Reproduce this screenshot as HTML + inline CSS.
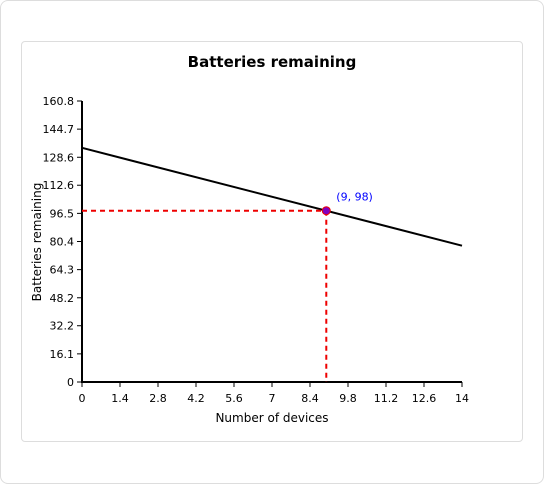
<!DOCTYPE html>
<html><head><meta charset="utf-8"><style>
html,body{margin:0;padding:0;background:#fff;}
body{width:544px;height:484px;position:relative;font-family:"DejaVu Sans","Liberation Sans",sans-serif;}
.outer{position:absolute;left:0;top:0;width:542px;height:482px;border:1px solid #ddd;border-radius:8px;}
.inner{position:absolute;left:21px;top:41px;width:500px;height:399px;border:1px solid #ddd;border-radius:4px;}
svg{position:absolute;left:0;top:0;}
</style></head><body>
<div class="outer"></div>
<div class="inner"></div>
<svg id="chart" width="544" height="484"></svg>
<script>
const xTicks=[0,1.4,2.8,4.2,5.6,7,8.4,9.8,11.2,12.6,14];
const yTicks=[0,16.1,32.2,48.2,64.3,80.4,96.5,112.6,128.6,144.7,160.8];
const lineX=[0,14];
const lineY=[134,78];
const pointX=[9];
const pointY=[98];
const pointLabels=["(9, 98)"];
const NS="http://www.w3.org/2000/svg";
const svg=document.getElementById('chart');
const X0=82,X1=462,Y0=382,Y1=101,XMAX=14,YMAX=160.8;
const sx=v=>X0+(v/XMAX)*(X1-X0);
const sy=v=>Y0-(v/YMAX)*(Y0-Y1);
function mk(t,a,txt){const e=document.createElementNS(NS,t);for(const k in a)e.setAttribute(k,a[k]);if(txt!==undefined)e.textContent=txt;svg.appendChild(e);return e;}
let e;
e=mk('text',{x:272,y:67,'text-anchor':'middle','font-size':15,'font-weight':'bold',fill:'#000'},'Batteries remaining');


e=mk('line',{x1:X0,y1:Y0,x2:X1,y2:Y0,stroke:'#000','stroke-width':2});


e=mk('line',{x1:X0,y1:Y0+1,x2:X0,y2:Y1,stroke:'#000','stroke-width':2});


xTicks.forEach(v=>{
 e=mk('line',{x1:sx(v),y1:Y0,x2:sx(v),y2:Y0+5,stroke:'#000'});
 
 
 e=mk('text',{x:sx(v),y:Y0+20,'text-anchor':'middle','font-size':11,fill:'#000'},String(v));
 
 
});
yTicks.forEach(v=>{
 e=mk('line',{x1:X0-5,y1:sy(v),x2:X0,y2:sy(v),stroke:'#000'});
 
 
 e=mk('text',{x:X0-8,y:sy(v)+4,'text-anchor':'end','font-size':11,fill:'#000'},String(v));
 
 
});
e=mk('text',{x:272,y:422,'text-anchor':'middle','font-size':12,fill:'#000'},'Number of devices');


e=mk('text',{x:0,y:0,'text-anchor':'middle','font-size':12,fill:'#000',transform:'translate(41,242) rotate(-90)'},'Batteries remaining');


e=mk('line',{x1:sx(lineX[0]),y1:sy(lineY[0]),x2:sx(lineX[1]),y2:sy(lineY[1]),stroke:'#000','stroke-width':2});


pointX.forEach((px,i)=>{
 const py=pointY[i];
 e=mk('line',{x1:X0,y1:sy(py),x2:sx(px),y2:sy(py),stroke:'#e00','stroke-width':2,'stroke-dasharray':'5,4'});
 
 
 e=mk('line',{x1:sx(px),y1:sy(py),x2:sx(px),y2:Y0,stroke:'#e00','stroke-width':2,'stroke-dasharray':'5,4'});
 
 
 e=mk('circle',{cx:sx(px),cy:sy(py),r:4,fill:'#8000c0',stroke:'#e00','stroke-width':1});
 
 
 e=mk('text',{x:sx(px)+10,y:sy(py)-10,'font-size':11,fill:'#00f'},pointLabels[i]);
 
 
});
</script>
</body></html>
